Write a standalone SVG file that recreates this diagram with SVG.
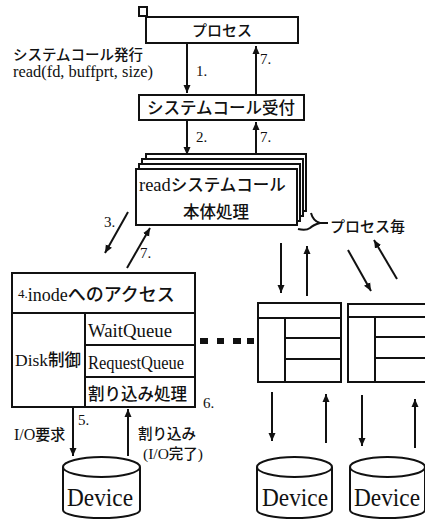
<svg xmlns="http://www.w3.org/2000/svg" width="425" height="521" viewBox="0 0 425 521">
<defs>
<marker id="ah" markerWidth="9" markerHeight="8" refX="8" refY="4" orient="auto" markerUnits="userSpaceOnUse">
<path d="M0,0.5 L8,4 L0,7.5 Z" fill="#111"/>
</marker>
<style>
.b{fill:#fff;stroke:#111;stroke-width:2}
.l{fill:none;stroke:#111;stroke-width:2}
.c{stroke:#111;stroke-width:2;fill:none;marker-end:url(#ah)}
.j{font-family:"Noto Sans CJK JP","Noto Sans",sans-serif;fill:#111;font-weight:500}
.s{font-family:"Liberation Serif","DejaVu Serif",serif;fill:#111}
.m{text-anchor:middle}
</style>
</defs>
<rect width="425" height="521" fill="#fff"/>

<g id="process">
<rect class="b" x="139" y="7" width="8" height="9" stroke-width="1.5"/>
<rect class="b" x="146" y="17" width="152" height="26"/>
<text class="j m" x="222" y="36" font-size="15">プロセス</text>
</g>

<g id="syscall-label">
<text class="j" x="13" y="60" font-size="14.5">システムコール発行</text>
<text class="s" x="13" y="77" font-size="16" textLength="140" lengthAdjust="spacingAndGlyphs">read(fd, buffprt, size)</text>
</g>

<g id="syscall-accept">
<rect class="b" x="139" y="95" width="165" height="25"/>
<text class="j m" x="221" y="114" font-size="16.5">システムコール受付</text>
</g>

<g id="read-body">
<rect class="b" x="146" y="154" width="160" height="57"/>
<rect class="b" x="142" y="159" width="161" height="57"/>
<rect class="b" x="139" y="164" width="161" height="57"/>
<rect class="b" x="136" y="169" width="161" height="56"/>
<text class="s" x="139" y="191" font-size="18.5">read<tspan class="j" font-size="16.5">システムコール</tspan></text>
<text class="j m" x="216" y="218" font-size="16.5">本体処理</text>
<path class="l" d="M311,213 Q313,221 320,223 Q313,225 310,228 Q306,231 298,229" stroke-width="1.5"/>
<path class="l" d="M320,223 L328,223" stroke-width="1.5"/>
<text class="j" x="330" y="232" font-size="15">プロセス毎</text>
</g>

<g id="inode">
<rect class="b" x="12" y="273" width="183" height="134"/>
<line class="l" x1="12" y1="313" x2="195" y2="313"/>
<line class="l" x1="85" y1="313" x2="85" y2="407"/>
<line class="l" x1="85" y1="345" x2="195" y2="345"/>
<line class="l" x1="85" y1="377" x2="195" y2="377"/>
<text class="s" x="18" y="301" font-size="18"><tspan font-size="13" dy="-3">4.</tspan><tspan dy="3">inode</tspan><tspan class="j" font-size="18">へのアクセス</tspan></text>
<text class="s" x="15" y="366" font-size="17.5">Disk<tspan class="j" font-size="16.5">制御</tspan></text>
<text class="s" x="88" y="337" font-size="18" textLength="84" lengthAdjust="spacingAndGlyphs">WaitQueue</text>
<text class="s" x="88" y="369" font-size="18" textLength="96" lengthAdjust="spacingAndGlyphs">RequestQueue</text>
<text class="j" x="88" y="400" font-size="16.5">割り込み処理</text>
<text class="s" x="203" y="408" font-size="15">6.</text>
</g>

<g id="dots" fill="#111">
<rect x="200" y="338" width="8" height="6"/>
<rect x="217" y="338" width="7" height="6"/>
<rect x="233" y="338" width="8" height="6"/>
<rect x="247" y="338" width="7" height="6"/>
</g>

<g id="struct1">
<rect class="b" x="258" y="303" width="83" height="79"/>
<line class="l" x1="258" y1="318" x2="341" y2="318"/>
<line class="l" x1="285" y1="318" x2="285" y2="382"/>
<line class="l" x1="285" y1="338" x2="341" y2="338"/>
<line class="l" x1="285" y1="359" x2="341" y2="359"/>
</g>

<g id="struct2">
<path class="l" d="M426,304 L348,304 L348,382 L426,382"/>
<line class="l" x1="348" y1="317" x2="426" y2="317"/>
<line class="l" x1="375" y1="317" x2="375" y2="382"/>
<line class="l" x1="375" y1="337" x2="426" y2="337"/>
<line class="l" x1="375" y1="358" x2="426" y2="358"/>
</g>

<g id="device1">
<path class="b" d="M63,467 L63,510 A38.5,8 0 0 0 140,510 L140,467 A38.5,10 0 0 0 63,467 Z"/>
<path class="l" d="M63,467 A38.5,10 0 0 0 140,467"/>
<text class="s" x="67" y="506" font-size="25" textLength="66" lengthAdjust="spacingAndGlyphs">Device</text>
</g>
<g id="device2">
<path class="b" d="M257,467 L257,510 A37.5,8 0 0 0 332,510 L332,467 A37.5,10 0 0 0 257,467 Z"/>
<path class="l" d="M257,467 A37.5,10 0 0 0 332,467"/>
<text class="s" x="262" y="506" font-size="25" textLength="66" lengthAdjust="spacingAndGlyphs">Device</text>
</g>
<g id="device3">
<path class="b" d="M350,467 L350,510 A37.5,8 0 0 0 425,510 L425,467 A37.5,10 0 0 0 350,467 Z"/>
<path class="l" d="M350,467 A37.5,10 0 0 0 425,467"/>
<text class="s" x="354" y="506" font-size="25" textLength="66" lengthAdjust="spacingAndGlyphs">Device</text>
</g>

<g id="connectors">
<line class="c" x1="187" y1="43" x2="187" y2="93"/>
<line class="c" x1="256" y1="95" x2="256" y2="46"/>
<line class="c" x1="187" y1="120" x2="187" y2="155"/>
<line class="c" x1="256" y1="154" x2="256" y2="122"/>
<line class="c" x1="128" y1="212" x2="105" y2="253"/>
<line class="c" x1="127" y1="268" x2="150" y2="228"/>
<line class="c" x1="281" y1="243" x2="281" y2="293"/>
<line class="c" x1="307" y1="296" x2="307" y2="246"/>
<line class="c" x1="348" y1="250" x2="371" y2="291"/>
<line class="c" x1="397" y1="279" x2="374" y2="240"/>
<line class="c" x1="272" y1="392" x2="272" y2="441"/>
<line class="c" x1="326" y1="443" x2="326" y2="394"/>
<line class="c" x1="362" y1="395" x2="362" y2="446"/>
<line class="c" x1="415" y1="448" x2="415" y2="399"/>
<line class="c" x1="73" y1="407" x2="73" y2="456"/>
<line class="c" x1="128" y1="456" x2="128" y2="409"/>
</g>

<g id="labels">
<text class="s" x="196" y="76" font-size="15">1.</text>
<text class="s" x="260" y="64" font-size="15">7.</text>
<text class="s" x="196" y="142" font-size="15">2.</text>
<text class="s" x="260" y="142" font-size="15">7.</text>
<text class="s" x="104" y="227" font-size="15">3.</text>
<text class="s" x="140" y="258" font-size="15">7.</text>
<text class="s" x="78" y="425" font-size="15">5.</text>
<text class="s" x="14" y="440" font-size="16">I/O<tspan class="j" font-size="15">要求</tspan></text>
<text class="j" x="138" y="439" font-size="14.5">割り込み</text>
<text class="s" x="143" y="459" font-size="15.5">(I/O<tspan class="j" font-size="14.5">完了</tspan>)</text>
</g>
</svg>
